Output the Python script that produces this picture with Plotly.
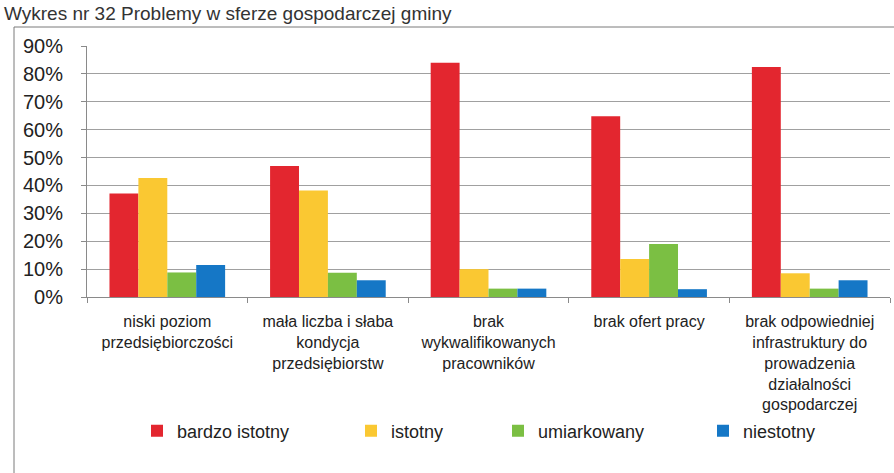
import plotly.graph_objects as go

# Problem categories (x axis)
categories = [
    "niski poziom<br>przedsiębiorczości",
    "mała liczba i słaba<br>kondycja<br>przedsiębiorstw",
    "brak<br>wykwalifikowanych<br>pracowników",
    "brak ofert pracy",
    "brak odpowiedniej<br>infrastruktury do<br>prowadzenia<br>działalności<br>gospodarczej",
]

# Share of answers per rating (%)
bardzo_istotny = [37.1, 47.0, 84.0, 64.8, 82.5]
istotny = [42.7, 38.2, 10.0, 13.6, 8.5]
umiarkowany = [8.8, 8.7, 3.0, 19.0, 3.0]
niestotny = [11.5, 6.0, 3.0, 2.8, 6.0]

y_ticks = [0, 10, 20, 30, 40, 50, 60, 70, 80, 90]
y_tick_labels = ["0%", "10%", "20%", "30%", "40%", "50%", "60%", "70%", "80%", "90%"]

series = [
    ("bardzo istotny", bardzo_istotny, "#E3262F"),
    ("istotny", istotny, "#FAC832"),
    ("umiarkowany", umiarkowany, "#7BBF43"),
    ("niestotny", niestotny, "#1577C6"),
]

W, H = 894, 473
ML, MR, MT, MB = 87, 4, 46, 176
PW = W - ML - MR
PH = H - MT - MB


def px_x(p):
    return (p - ML) / PW


def px_y(p):
    return (H - MB - p) / PH


FONT = "Liberation Sans, Arial, sans-serif"

fig = go.Figure()
legend_names = ["legend", "legend2", "legend3", "legend4"]
for (name, vals, color), lg in zip(series, legend_names):
    fig.add_trace(go.Bar(
        x=categories, y=vals, name=name,
        marker=dict(color=color, line=dict(width=0)),
        legend=lg, showlegend=True,
    ))

# one legend per series so each entry sits at its own spot
legend_left_px = [137, 351, 498, 703]
legend_cfg = {}
for lg, lx in zip(legend_names, legend_left_px):
    legend_cfg[lg] = dict(
        x=px_x(lx), y=px_y(431), xanchor="left", yanchor="middle",
        orientation="h", bgcolor="rgba(0,0,0,0)", borderwidth=0,
        font=dict(family=FONT, size=18, color="#222"),
        itemwidth=30, visible=True,
    )

fig.update_layout(
    width=W, height=H,
    margin=dict(l=ML, r=MR, t=MT, b=MB, pad=0),
    paper_bgcolor="white", plot_bgcolor="white",
    barmode="group", bargap=0.28, bargroupgap=0,
    showlegend=True,
    font=dict(family=FONT, color="#222"),
    **legend_cfg,
    xaxis=dict(
        showline=True, linecolor="#8a8a8a", linewidth=1,
        ticks="outside", tickson="boundaries", ticklen=5, tickcolor="#8a8a8a",
        tickfont=dict(family=FONT, size=16, color="#222"),
        ticklabelstandoff=10,
        showgrid=False, fixedrange=True,
    ),
    yaxis=dict(
        range=[0, 90], tickmode="array", tickvals=y_ticks, ticktext=y_tick_labels,
        showline=True, linecolor="#8a8a8a", linewidth=1,
        ticks="outside", ticklen=5, tickcolor="#8a8a8a",
        tickfont=dict(family=FONT, size=20, color="#222"),
        ticklabelstandoff=14,
        showgrid=True, gridcolor="#a0a0a0", gridwidth=1,
        zeroline=False, fixedrange=True,
    ),
    shapes=[dict(
        type="rect", xref="paper", yref="paper",
        x0=px_x(14), x1=px_x(960), y0=px_y(560), y1=px_y(27),
        line=dict(color="#7a7a7a", width=1), fillcolor="rgba(0,0,0,0)",
        layer="below",
    )],
    annotations=[dict(
        text="Wykres nr 32 Problemy w sferze gospodarczej gminy",
        xref="paper", yref="paper", x=px_x(2), y=px_y(1),
        xanchor="left", yanchor="top", showarrow=False,
        font=dict(family=FONT, size=19, color="#333"),
    )],
)

fig.write_html("out.html")
